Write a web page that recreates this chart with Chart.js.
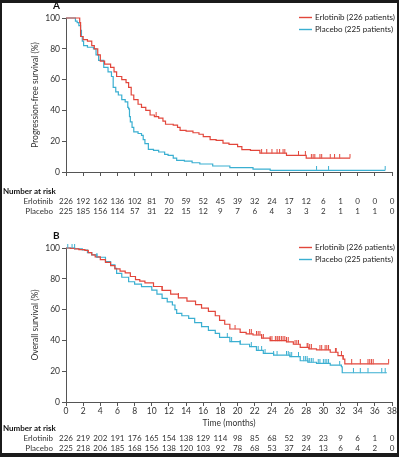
<!DOCTYPE html>
<html><head><meta charset="utf-8">
<script src="https://cdn.jsdelivr.net/npm/chart.js@4.4.1/dist/chart.umd.min.js"></script>
<style>
html,body{margin:0;padding:0;background:#1b1b1b;}
#wrap{position:relative;width:399px;height:457px;overflow:hidden;background:#1b1b1b;}
#paper{position:absolute;left:2px;top:3px;width:395px;height:450px;background:#fff;}
canvas{position:absolute;left:0;}
#cA{top:0;} #cB{top:218px;}
</style></head><body>
<div id="wrap"><div id="paper"></div>
<canvas id="cA" width="399" height="218"></canvas>
<canvas id="cB" width="399" height="239"></canvas>
</div>
<script>
// ---------- DATA ----------
const riskTimes = [0,2,4,6,8,10,12,14,16,18,20,22,24,26,28,30,32,34,36,38];

const pfsErlotinibT = [0,1.5,1.6,1.7,2.0,2.5,3.0,3.3,3.7,4.0,4.5,5.2,5.6,5.9,6.5,7.0,7.3,7.6,7.9,8.4,8.8,9.3,9.8,10.3,10.8,11.3,11.6,12.5,13.0,13.3,14.0,14.8,15.5,16.0,16.8,17.5,18.3,19.0,20.0,20.5,21.5,22.6,25.7,28.0,33.1];
const pfsErlotinibS = [100,100,97,88,86,85,82,80,76,72,70,68,65,62,60,58,55,50,47,44,42,40,37,36,35,33,31,30.5,29,27,26.5,25.5,24.5,23,21,20.5,18.8,18,16.5,14.5,14,12.2,10.8,9,9];
const pfsErlotinibCensor = [10.5,22.8,23.4,24.0,24.6,24.9,25.3,25.5,27.1,27.9,28.6,28.8,29.0,29.6,29.8,30.8,31.3,31.9,33.1];

const pfsPlaceboT = [0,0.9,1.1,1.3,1.5,1.7,1.8,1.9,2.05,2.5,3.2,3.5,3.8,4.4,4.9,5.3,5.5,5.8,6.1,6.5,6.9,7.2,7.3,7.4,7.5,7.7,7.9,8.4,8.8,9.0,9.2,9.6,10.2,10.8,11.5,11.9,12.5,12.9,13.8,14.7,15.6,17.1,19.1,21.8,23.8,37.2];
const pfsPlaceboS = [100,100,98,97,95,92,88,85,82,81,80,76,72.5,68,65,62,55,52,50,47,45.5,42,41,36,32.5,29,26,25,23.8,21,18.4,14.7,14,13,11.5,10.8,9,7.6,7,6,5.2,3.9,2.8,1.9,1.1,1.1];
const pfsPlaceboCensor = [29.2,30.6,37.2];

const osErlotinibT = [0,0.5,1.0,1.5,2.2,2.6,3.0,3.4,4.0,4.6,5.2,5.7,6.3,6.9,7.5,8.1,8.6,9.2,10.2,11.2,12.2,13.1,14.1,15.1,15.8,16.6,17.4,17.9,18.5,19.1,20.3,21.0,21.8,22.8,23.8,25.7,26.5,27.3,28.3,29.2,30.8,31.7,32.3,32.5,37.6];
const osErlotinibS = [100,99.8,99.4,99,98.5,97,95.5,94.2,92.5,90.7,88.5,86.4,85,83.8,81.5,79.5,78.5,77.3,75,72.5,70,67.6,65.5,63.2,61,58.9,56,53,50.5,47.4,45.2,44.2,43.5,41.5,39.8,39.1,37.5,35.5,34.5,33.9,32.3,30.1,27.9,24.7,24.7];
const osErlotinibCensor = [11.2,13.1,19.7,21.4,21.6,22.2,22.4,22.6,22.8,23.0,23.8,24.0,24.4,24.6,24.7,24.9,25.1,25.3,25.5,25.7,25.9,26.7,26.9,27.1,28.1,28.2,28.4,28.6,29.6,29.8,30.2,30.4,30.6,31.4,31.5,32.1,32.3,33.3,34.3,35.2,35.4,35.6,35.8,37.6];

const osPlaceboT = [0,1.0,1.9,2.5,3.0,3.6,4.6,5.2,5.7,5.9,6.5,7.3,8.0,8.8,10.0,10.6,11.2,11.8,12.4,12.7,12.9,13.5,14.3,15.0,15.8,16.6,17.4,17.9,19.1,20.3,21.4,22.2,23.0,24.2,26.1,27.3,28.2,29.2,30.8,32.1,32.2,37.4];
const osPlaceboS = [100,99.5,98.7,97,95.5,94,91.1,89,86.8,83.5,81,78.1,76.5,74.9,72.7,70,67.3,65,63,60,57.6,56,54.3,51.5,48.9,46.5,44.6,42,39.2,37.5,35.9,33.5,31.6,30.5,29.4,26.8,25.8,25.1,24,22.9,19,19];
const osPlaceboCensor = [0.2,0.7,1.0,3.6,15.8,18.8,19.3,20.3,21.6,22.4,22.8,23.2,24.2,24.6,25.7,25.9,26.1,26.3,27.1,27.7,27.9,28.1,28.2,28.4,28.6,28.8,29.4,29.6,30.0,30.2,30.4,30.6,31.9,33.5,34.3,35.2,36.8,37.2];

const pfsRiskErlotinib = [226,192,162,136,102,81,70,59,52,45,39,32,24,17,12,6,1,0,0,0];
const pfsRiskPlacebo   = [225,185,156,114,57,31,22,15,12,9,7,6,4,3,3,2,1,1,1,0];
const osRiskErlotinib  = [226,219,202,191,176,165,154,138,129,114,98,85,68,52,39,23,9,6,1,0];
const osRiskPlacebo    = [225,218,206,185,168,156,138,120,103,92,78,68,53,37,24,13,6,4,2,0];

const seriesNames = ['Erlotinib (226 patients)','Placebo (225 patients)'];
const rowNames = ['Erlotinib','Placebo'];

// ---------- STYLE ----------
const RED = '#e2463b', BLUE = '#3aafd1', AXIS = '#555', TXT = '#333';
const FONT = "Lato, 'Open Sans', sans-serif";

function stepAt(T, S, t){ let v = S[0]; for (let i=0;i<T.length;i++){ if (T[i] <= t) v = S[i]; } return v; }
function tickImg(color){
  const c = document.createElement('canvas'); c.width = 3; c.height = 9;
  const g = c.getContext('2d'); g.strokeStyle = color; g.lineWidth = 1;
  g.beginPath(); g.moveTo(1.5,0); g.lineTo(1.5,4.5); g.stroke(); return c;
}
function curve(label, T, S, color){
  return {label, data: T.map((t,i)=>({x:t,y:S[i]})), stepped:true, borderColor:color,
    borderWidth:1.2, pointRadius:0, fill:false, clip:false, order:1};
}
function censor(T, S, C, color){
  return {label:'censor', isCensor:true, data: C.map(t=>({x:t,y:stepAt(T,S,t)})), showLine:false,
    pointStyle: tickImg(color), pointRadius:3, borderColor:color, backgroundColor:color, clip:false, order:0};
}

const kmPlugin = {
  id:'km',
  afterDraw(chart, args, o){
    const ctx = chart.ctx, a = chart.chartArea, xs = chart.scales.x;
    ctx.save();
    // panel letter
    ctx.fillStyle = '#111'; ctx.font = "bold 10px " + FONT; ctx.textBaseline = 'middle'; ctx.textAlign='left';
    ctx.fillText(o.letter, 53, a.top - 12);
    // legend
    ctx.font = "8px " + FONT;
    chart.data.datasets.filter(d=>!d.isCensor).forEach((d,i)=>{
      const y = Math.round(a.top - 1 + i*11.5) + 0.5;
      ctx.strokeStyle = d.borderColor; ctx.lineWidth = 1.4;
      ctx.beginPath(); ctx.moveTo(299,y); ctx.lineTo(312,y); ctx.stroke();
      ctx.fillStyle = '#222'; ctx.fillText(d.label, 315, y);
    });
    // number at risk
    const y0 = a.bottom + o.riskDy;
    ctx.font = "bold 8px " + FONT; ctx.fillStyle = '#111'; ctx.textAlign = 'left';
    ctx.fillText('Number at risk', 3, y0);
    ctx.font = "8px " + FONT; ctx.fillStyle = TXT;
    o.rows.forEach((vals, r)=>{
      const y = y0 + 10 + r*10;
      ctx.textAlign = 'right'; ctx.fillText(rowNames[r], 53, y);
      ctx.textAlign = 'center';
      vals.forEach((v,i)=> ctx.fillText(String(v), xs.getPixelForValue(riskTimes[i]), y));
    });
    ctx.restore();
  }
};

function makeChart(id, datasets, opt){
  return new Chart(document.getElementById(id), {
    type:'line',
    data:{datasets},
    plugins:[kmPlugin],
    options:{
      responsive:false, animation:false, events:[],
      layout:{padding:{left:26, right:7, top:opt.top, bottom:opt.bottom}},
      plugins:{legend:{display:false}, tooltip:{enabled:false}, km:{letter:opt.letter, rows:opt.rows, riskDy:opt.riskDy}},
      scales:{
        x:{type:'linear', min:0, max:38,
          afterFit(s){ s.height = opt.xH; },
          border:{display:true, color:AXIS, width:1},
          grid:{drawOnChartArea:false, drawTicks:true, tickLength:4, color:AXIS},
          ticks:{display:opt.xLabels, stepSize:2, autoSkip:false, maxRotation:0, padding:0, color:TXT, font:{family:FONT, size:8.5}},
          title:{display:!!opt.xTitle, text:opt.xTitle||'', color:TXT, font:{family:FONT, size:8.5}}
        },
        y:{type:'linear', min:0, max:100,
          afterFit(s){ s.width = 40; },
          border:{display:true, color:AXIS, width:1},
          grid:{drawOnChartArea:false, drawTicks:true, tickLength:4, color:AXIS},
          ticks:{stepSize:20, padding:2, color:TXT, font:{family:FONT, size:8.5}},
          title:{display:true, text:opt.yTitle, color:TXT, font:{family:FONT, size:8.5}}
        }
      }
    }
  });
}

makeChart('cA', [
  curve(seriesNames[0], pfsErlotinibT, pfsErlotinibS, RED),
  curve(seriesNames[1], pfsPlaceboT, pfsPlaceboS, BLUE),
  censor(pfsErlotinibT, pfsErlotinibS, pfsErlotinibCensor, RED),
  censor(pfsPlaceboT, pfsPlaceboS, pfsPlaceboCensor, BLUE)
], {letter:'A', top:18, bottom:36, xH:10, xLabels:false, yTitle:'Progression-free survival (%)',
    rows:[pfsRiskErlotinib, pfsRiskPlacebo], riskDy:19});

makeChart('cB', [
  curve(seriesNames[0], osErlotinibT, osErlotinibS, RED),
  curve(seriesNames[1], osPlaceboT, osPlaceboS, BLUE),
  censor(osErlotinibT, osErlotinibS, osErlotinibCensor, RED),
  censor(osPlaceboT, osPlaceboS, osPlaceboCensor, BLUE)
], {letter:'B', top:30, bottom:25, xH:30, xLabels:true, xTitle:'Time (months)', yTitle:'Overall survival (%)',
    rows:[osRiskErlotinib, osRiskPlacebo], riskDy:26});
</script>
</body></html>
